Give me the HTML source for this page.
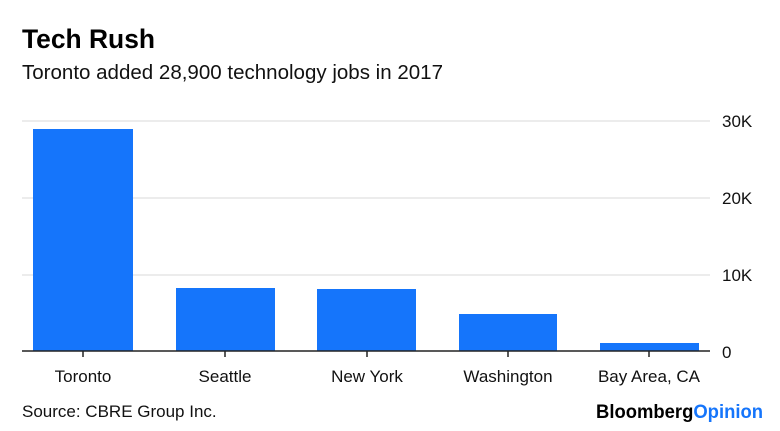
<!DOCTYPE html>
<html><head><style>
body{margin:0;background:#fff;}
svg{display:block;font-family:"Liberation Sans",sans-serif;}
</style></head><body>
<svg width="780" height="431" viewBox="0 0 780 431">
<rect width="780" height="431" fill="#fff"/>
<text x="22" y="48" font-size="27" font-weight="bold" fill="#000" textLength="133" lengthAdjust="spacingAndGlyphs">Tech Rush</text>
<text x="22" y="79" font-size="20" fill="#111" textLength="421" lengthAdjust="spacingAndGlyphs">Toronto added 28,900 technology jobs in 2017</text>
<g stroke="#e6e6e6" stroke-width="1.5">
<line x1="22" y1="121" x2="710" y2="121"/>
<line x1="22" y1="198" x2="710" y2="198"/>
<line x1="22" y1="275" x2="710" y2="275"/>
</g>
<g font-size="17" fill="#111">
<text x="722" y="127">30K</text>
<text x="722" y="204">20K</text>
<text x="722" y="281">10K</text>
<text x="722" y="358">0</text>
</g>
<g fill="#1575fb">
<rect x="33" y="129" width="100" height="222"/>
<rect x="176" y="288" width="99" height="63"/>
<rect x="317" y="289" width="99" height="62"/>
<rect x="459" y="314" width="98" height="37"/>
<rect x="600" y="343" width="99" height="8"/>
</g>
<line x1="22" y1="351" x2="710" y2="351" stroke="#222" stroke-width="1.5"/>
<g stroke="#222" stroke-width="1.5">
<line x1="83" y1="351" x2="83" y2="357"/>
<line x1="225" y1="351" x2="225" y2="357"/>
<line x1="367" y1="351" x2="367" y2="357"/>
<line x1="508" y1="351" x2="508" y2="357"/>
<line x1="649" y1="351" x2="649" y2="357"/>
</g>
<g font-size="17" fill="#111" text-anchor="middle">
<text x="83" y="382">Toronto</text>
<text x="225" y="382">Seattle</text>
<text x="367" y="382">New York</text>
<text x="508" y="382">Washington</text>
<text x="649" y="382">Bay Area, CA</text>
</g>
<text x="22" y="417" font-size="17" fill="#111">Source: CBRE Group Inc.</text>
<text x="596" y="418" font-size="19" font-weight="bold" textLength="167" lengthAdjust="spacingAndGlyphs"><tspan fill="#000">Bloomberg</tspan><tspan fill="#1575fb">Opinion</tspan></text>
</svg>
</body></html>
